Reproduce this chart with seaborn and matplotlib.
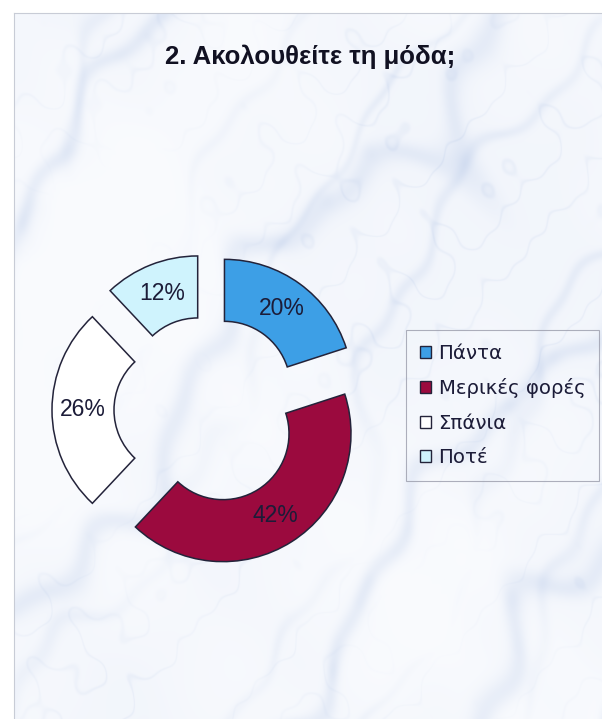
import numpy as np
import matplotlib
matplotlib.use("Agg")
import matplotlib.pyplot as plt
from matplotlib.patches import Patch
import seaborn as sns

# Survey answers: "Do you follow fashion?"
categories = ["Πάντα", "Μερικές φορές", "Σπάνια", "Ποτέ"]
shares = [20, 42, 26, 12]
colors = ["#3d9fe6", "#9b0a3e", "#ffffff", "#cff3fd"]
title = "2. Ακολουθείτε τη μόδα;"

sns.set_theme(style="white")
plt.rcParams["font.family"] = ["Liberation Sans", "DejaVu Sans"]

W_PX, H_PX = 602, 719
fig = plt.figure(figsize=(W_PX / 100, H_PX / 100), dpi=100)
fig.patch.set_facecolor("white")

# ---- marble backdrop ------------------------------------------------------
px0, py0 = 14, 13
bw, bh = W_PX - px0, H_PX - py0
yy, xx = np.mgrid[0:bh, 0:bw].astype(float)

waves_a = [(1.0, 0.006, 0.004, 0.3), (0.6, -0.010, 0.008, 1.9),
           (0.4, 0.019, 0.014, 4.1), (0.25, -0.033, 0.027, 2.7),
           (0.15, 0.052, -0.044, 0.8)]
waves_b = [(1.0, -0.005, 0.007, 2.2), (0.6, 0.013, 0.010, 0.7),
           (0.4, -0.024, 0.019, 3.3), (0.25, 0.040, 0.031, 1.1),
           (0.15, -0.061, 0.052, 4.6)]
waves_c = [(1.0, 0.045, 0.038, 0.5), (0.8, -0.061, 0.057, 2.9),
           (0.6, 0.083, -0.071, 1.4), (0.5, 0.117, 0.101, 3.8),
           (0.4, -0.151, 0.133, 5.6)]
turb_a = sum(a * np.sin(fx * xx + fy * yy + p) for a, fx, fy, p in waves_a)
turb_b = sum(a * np.sin(fx * xx + fy * yy + p) for a, fx, fy, p in waves_b)
grain = sum(a * np.sin(fx * xx + fy * yy + p) for a, fx, fy, p in waves_c)

# streaks run from lower left to upper right
vein1 = np.exp(-np.sin(0.013 * (xx + 0.75 * yy) + 0.9 * turb_a) ** 2 / 0.05)
vein2 = np.exp(-np.sin(0.021 * (xx + 0.6 * yy) + 0.8 * turb_b) ** 2 / 0.03)
vein3 = np.exp(-np.sin(0.034 * (xx + 0.9 * yy) + 0.7 * grain) ** 2 / 0.02)
patch = np.clip(0.5 + 0.35 * turb_b - 0.25 * turb_a, 0, 1)
speck = np.clip(grain / 3.0, 0, 1) ** 2
strength = np.clip(0.34 * vein1 + 0.28 * vein2 * patch + 0.14 * patch
                   + 0.2 * vein3 * patch + 0.25 * speck * vein1, 0, 1)

base = np.array([0.978, 0.984, 0.996])
vein_col = np.array([0.58, 0.68, 0.86])
k = 0.45 * strength[..., None]
marble = base * (1 - k) + vein_col * k

bg = fig.add_axes([px0 / W_PX, 0, bw / W_PX, bh / H_PX])
bg.imshow(marble, aspect="auto", interpolation="bilinear")
bg.set_xticks([])
bg.set_yticks([])
for side in ["right", "bottom"]:
    bg.spines[side].set_visible(False)
for side in ["left", "top"]:
    bg.spines[side].set_color("#c8ccd6")
    bg.spines[side].set_linewidth(0.8)

# ---- exploded doughnut ---------------------------------------------------
ax = fig.add_axes([0, 0, 1, 1])
ax.patch.set_alpha(0)
cx, cy = 208, H_PX - 410
outer_r, ring_w, gap = 128, 62, 28

wedges, _, pct_texts = ax.pie(
    shares,
    colors=colors,
    startangle=90,
    counterclock=False,
    explode=[gap] * len(shares),
    radius=outer_r,
    center=(cx, cy),
    wedgeprops=dict(width=ring_w, edgecolor="#23233a", linewidth=1.1),
    autopct="%.0f%%",
    pctdistance=0.76,
    textprops=dict(fontsize=16.5, color="#1c1c38"),
)
ax.set_xlim(0, W_PX)
ax.set_ylim(0, H_PX)
ax.set_aspect("equal")
ax.axis("off")

fig.text(310 / W_PX, 1 - 57 / H_PX, title, ha="center", va="center",
         fontsize=18.5, fontweight="bold", color="#111122")

handles = [Patch(facecolor=c, edgecolor="#23233a", linewidth=1.0) for c in colors]
leg = ax.legend(
    handles, categories,
    loc="upper left",
    bbox_to_anchor=(406 / W_PX, 1 - 330 / H_PX),
    bbox_transform=fig.transFigure,
    frameon=True, fancybox=False,
    edgecolor="#9a9cab", facecolor="none",
    handlelength=0.55, handleheight=0.55, handletextpad=0.4,
    labelspacing=0.78, borderpad=0.7, borderaxespad=0,
    prop={"family": ["DejaVu Sans"], "size": 14.2},
)
leg.get_frame().set_linewidth(0.8)
for t in leg.get_texts():
    t.set_color("#1c1c38")

fig.savefig("out.png", dpi=100)
